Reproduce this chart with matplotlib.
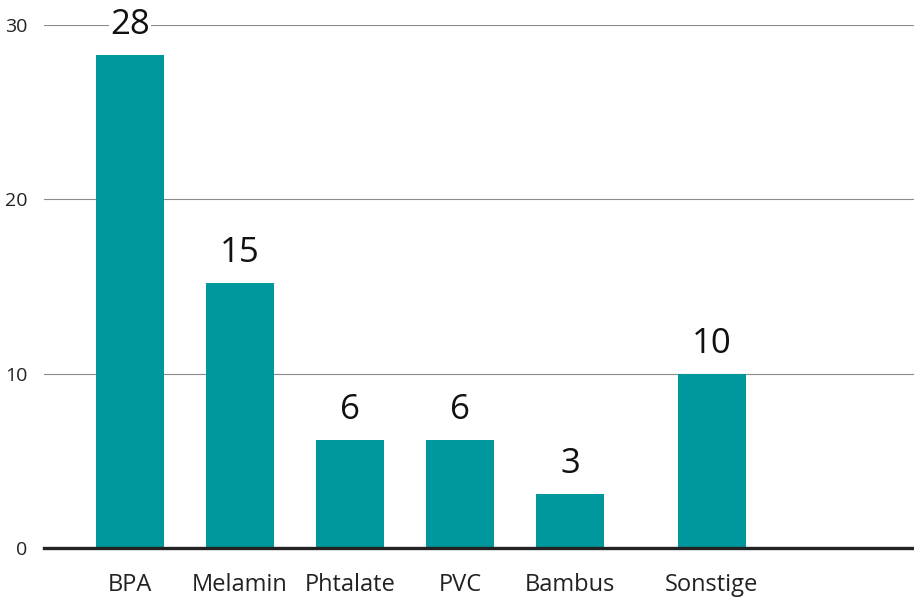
import matplotlib.pyplot as plt
import numpy as np

plt.rcParams['font.family'] = ['Open Sans', 'DejaVu Sans']

categories = ['BPA', 'Melamin', 'Phtalate', 'PVC', 'Bambus', 'Sonstige']
values = [28.3, 15.2, 6.2, 6.2, 3.1, 10.0]
labels = ['28', '15', '6', '6', '3', '10']
yticks = [0, 10, 20, 30]

teal = '#00979d'
dark = '#222222'

# last bar sits a bit further right than the rest
x = np.arange(len(categories), dtype=float)
x[-1] += 0.29

fig = plt.figure(figsize=(9.14, 6), dpi=100)
ax = fig.add_axes([44 / 914, 52 / 600, 870 / 914, 523 / 600])

ax.bar(x, values, width=0.62, color=teal, zorder=3)

for xi, v, lab in zip(x, values, labels):
    ax.annotate(lab, (xi, v), xytext=(0, 15), textcoords='offset points',
                ha='center', va='baseline', fontsize=25, color='#111111',
                zorder=5, annotation_clip=False,
                bbox=dict(facecolor='white', edgecolor='none', pad=1))

ax.set_xlim(-0.782, 7.127)
ax.set_ylim(0, 30)
ax.set_yticks(yticks)
ax.set_xticks(x)
ax.set_xticklabels(categories, fontsize=17, color=dark)
ax.tick_params(axis='x', length=0, pad=18)
ax.tick_params(axis='y', length=0, pad=12, labelsize=14, labelcolor=dark)

ax.grid(axis='y', color='#8c8c8c', linewidth=0.8, zorder=0)
ax.set_axisbelow(True)
for side in ['top', 'right', 'left']:
    ax.spines[side].set_visible(False)
ax.spines['bottom'].set_color(dark)
ax.spines['bottom'].set_linewidth(2.4)
ax.spines['bottom'].set_zorder(4)

fig.savefig('out.png', dpi=100)
